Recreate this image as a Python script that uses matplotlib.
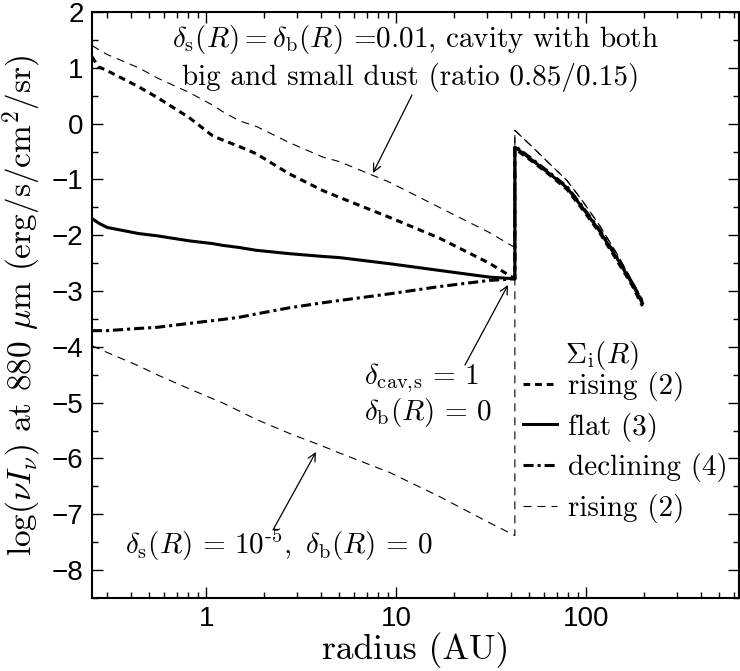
import matplotlib
matplotlib.use("Agg")
import matplotlib.pyplot as plt
from matplotlib.ticker import FixedLocator, LogLocator, NullFormatter, FixedFormatter

plt.rcParams['mathtext.fontset'] = 'cm'
plt.rcParams['font.family'] = ['cmr10', 'DejaVu Serif']
plt.rcParams['axes.formatter.use_mathtext'] = False

# ---- data ----
R_inner = [0.25, 0.27, 0.3, 0.44, 0.55, 0.81, 1.08, 1.21, 1.49, 1.83, 2.73, 4.1, 5.0, 9.2, 16.8, 30.8, 42]
R_outer = [42, 52, 64, 79, 95, 117, 144, 174, 197]

rising_in = [1.2, 1.02, 0.95, 0.66, 0.47, 0.11, -0.22, -0.29, -0.41, -0.54, -0.90, -1.20, -1.32, -1.68, -2.05, -2.50, -2.78]
rising_out = [-0.45, -0.68, -0.92, -1.18, -1.53, -1.95, -2.44, -2.90, -3.27]

flat_in = [-1.70, -1.78, -1.86, -1.97, -2.01, -2.10, -2.15, -2.18, -2.22, -2.27, -2.33, -2.38, -2.40, -2.51, -2.63, -2.75, -2.78]
flat_out = [-0.42, -0.66, -0.90, -1.15, -1.50, -1.92, -2.40, -2.87, -3.22]

declining_in = [-3.71, -3.71, -3.71, -3.67, -3.65, -3.58, -3.53, -3.51, -3.47, -3.41, -3.30, -3.21, -3.17, -3.05, -2.92, -2.81, -2.78]
declining_out = [-0.40, -0.64, -0.88, -1.13, -1.48, -1.90, -2.38, -2.85, -3.20]

both_dust_in = [1.40, 1.33, 1.24, 1.00, 0.82, 0.56, 0.33, 0.22, 0.05, -0.05, -0.34, -0.60, -0.68, -1.05, -1.50, -1.95, -2.22]
low_small_in = [-3.98, -4.03, -4.10, -4.34, -4.50, -4.75, -4.93, -5.00, -5.15, -5.30, -5.55, -5.78, -5.90, -6.25, -6.68, -7.15, -7.38]
thin_out = [-0.12, -0.42, -0.72, -1.02, -1.38, -1.82, -2.32, -2.82, -3.15]

y_ticks = [2, 1, 0, -1, -2, -3, -4, -5, -6, -7, -8]
y_tick_labels = ['2', '1', '0', '\u22121', '\u22122', '\u22123', '\u22124', '\u22125', '\u22126', '\u22127', '\u22128']
x_ticks = [1, 10, 100]
x_tick_labels = ['1', '10', '100']

# ---- figure ----
W, H = 740, 671
fig = plt.figure(figsize=(W / 100, H / 100), dpi=100)
ax = fig.add_axes([92 / W, 1 - 598 / H, (739 - 92) / W, (598 - 12) / H])

R_all = R_inner + R_outer
thick_dash = (0, (2.2, 1.6))
dash_dot = (0, (3.3, 1.3, 1.0, 1.3))
thin_dash = (0, (7.2, 5.4))

l1, = ax.plot(R_all, rising_in + rising_out, color='black', lw=2.2, ls=thick_dash, label='rising (2)')
l2, = ax.plot(R_all, flat_in + flat_out, color='black', lw=2.2, ls='-', label='flat (3)')
l3, = ax.plot(R_all, declining_in + declining_out, color='black', lw=2.2, ls=dash_dot, label='declining (4)')
l4, = ax.plot(R_all, both_dust_in + thin_out, color='black', lw=0.8, ls=thin_dash, label='rising (2)')
ax.plot(R_all, low_small_in + thin_out, color='black', lw=0.8, ls=thin_dash)

ax.set_xscale('log')
ax.set_xlim(0.25, 635)
ax.set_ylim(-8.5, 2)

ax.xaxis.set_major_locator(FixedLocator(x_ticks))
ax.xaxis.set_major_formatter(FixedFormatter(x_tick_labels))
ax.xaxis.set_minor_locator(LogLocator(base=10, subs=[2, 3, 4, 5, 6, 7, 8, 9], numticks=20))
ax.xaxis.set_minor_formatter(NullFormatter())
ax.yaxis.set_major_locator(FixedLocator(y_ticks))
ax.yaxis.set_major_formatter(FixedFormatter(y_tick_labels))
ax.yaxis.set_minor_locator(FixedLocator([v + 0.5 for v in range(-9, 2)]))

ax.tick_params(which='both', direction='in', top=True, right=True, width=1.0)
ax.tick_params(which='major', length=8, pad=6)
ax.tick_params(which='minor', length=4.5)
for lab in ax.get_xticklabels() + ax.get_yticklabels():
    lab.set_fontfamily('Liberation Sans')
    lab.set_fontsize(20)
for s in ax.spines.values():
    s.set_linewidth(1.5)

ax.set_xlabel('radius (AU)', fontsize=25.5, labelpad=0)
ax.set_ylabel(r'log($\nu I_\nu$) at 880 $\mu$m (erg/s/cm$^2$/sr)', fontsize=24, labelpad=6)

# ---- annotations (pixel positions) ----
def fx(x):
    return x / W

def fy(y):
    return 1 - y / H

fs = 21
fig.text(fx(172), fy(40), r'$\delta_{\rm s}(R)=\delta_{\rm b}(R)$ =0.01, cavity with both', fontsize=fs, va='center', ha='left')
fig.text(fx(182), fy(77), 'big and small dust (ratio 0.85/0.15)', fontsize=fs, va='center', ha='left')
fig.text(fx(364), fy(378), r'$\delta_{\rm cav,\!s}\,=\,1$', fontsize=fs, va='center', ha='left')
fig.text(fx(364), fy(413), r'$\delta_{\rm b}(R)\,=\,0$', fontsize=fs, va='center', ha='left')
fig.text(fx(125), fy(545), r'$\delta_{\rm s}(R)\,=\,10^{\text{-}5},\ \delta_{\rm b}(R)\,=\,0$', fontsize=fs, va='center', ha='left')
fig.text(fx(565), fy(355), r'$\Sigma_{\rm i}(R)$', fontsize=fs, va='center', ha='left')

arrow = dict(arrowstyle='->', color='black', lw=0.9, shrinkA=0, shrinkB=0, mutation_scale=14)
for (x0, y0), (x1, y1) in [((412, 95), (373, 173)), ((465, 365), (508, 285)), ((273, 530), (316, 452))]:
    fig.add_artist(matplotlib.patches.FancyArrowPatch((fx(x0), fy(y0)), (fx(x1), fy(y1)),
                                                      transform=fig.transFigure, **arrow))

leg = ax.legend(handles=[l1, l2, l3, l4], loc='upper left', bbox_to_anchor=(fx(523), fy(372)),
                bbox_transform=fig.transFigure, frameon=False, fontsize=fs, handlelength=1.15,
                handletextpad=0.4, labelspacing=0.4, borderpad=0, borderaxespad=0)

fig.savefig('out.png', dpi=100)
